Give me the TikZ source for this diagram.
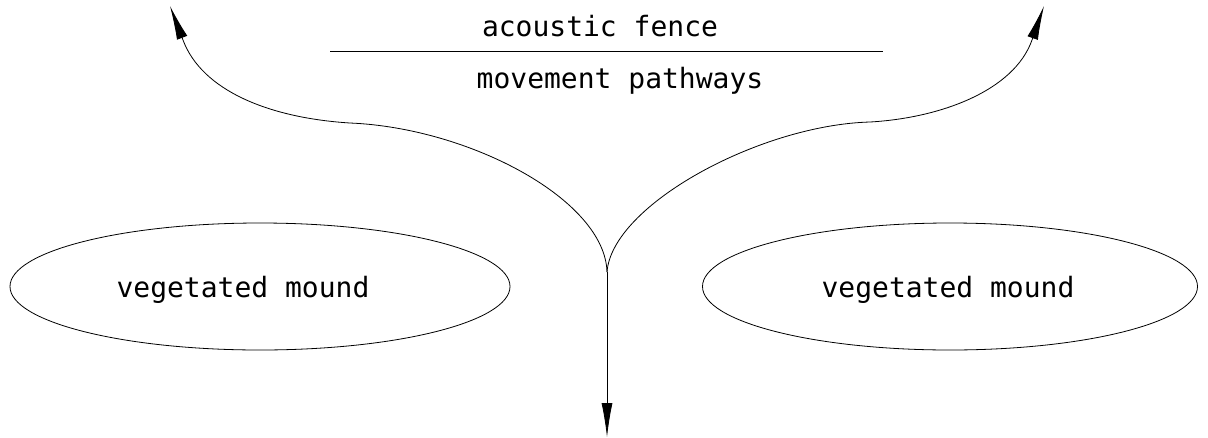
\documentclass[tikz,border=0pt]{standalone}
\usepackage{fontspec}
\setmonofont{DejaVu Sans Mono}
\usetikzlibrary{shapes.geometric,arrows.meta}
\begin{document}
\begin{tikzpicture}[x=1pt,y=-1pt,
  lbl/.style={font=\ttfamily\fontsize{28}{30}\selectfont, inner sep=0pt, anchor=base},
  mound/.style={draw, ellipse, inner sep=0pt, line width=0.8pt},
  route/.style={draw, line width=0.8pt},
  tip/.style={-{Latex[length=34pt,width=11pt]}}]
\useasboundingbox (0,0) rectangle (1208,437);
% mounds
\node[mound, minimum width=500pt, minimum height=127pt] (mL) at (260,286.5) {};
\node[mound, minimum width=495pt, minimum height=127pt] (mR) at (950,286.5) {};
\node[lbl] (tL) at (243,297) {vegetated mound};
\node[lbl] (tR) at (948,297) {vegetated mound};
% fence
\coordinate (f1) at (330,51);
\coordinate (f2) at (883,51);
\draw[line width=0.8pt] (f1) -- (f2);
\node[lbl] (ac) at (600,36) {acoustic fence};
\node[lbl] (mp) at (620,88) {movement pathways};
% pathways
\coordinate (J) at (607,272);
\coordinate (WL) at (350,123);
\coordinate (AL) at (183,40);
\coordinate (TL) at (170,6);
\coordinate (ER) at (870,122);
\coordinate (BR) at (1032,40);
\coordinate (TR) at (1044,6);
\coordinate (D) at (607,437);
\draw[route,tip] (J) .. controls (605,200) and (470,128) .. (WL)
  .. controls (270,118) and (202,91) .. (AL) -- (TL);
\draw[route,tip] (J) .. controls (612,205) and (760,125) .. (ER)
  .. controls (940,118) and (1014,91) .. (BR) -- (TR);
\draw[route,tip] (J) -- (D);
\end{tikzpicture}
\end{document}
